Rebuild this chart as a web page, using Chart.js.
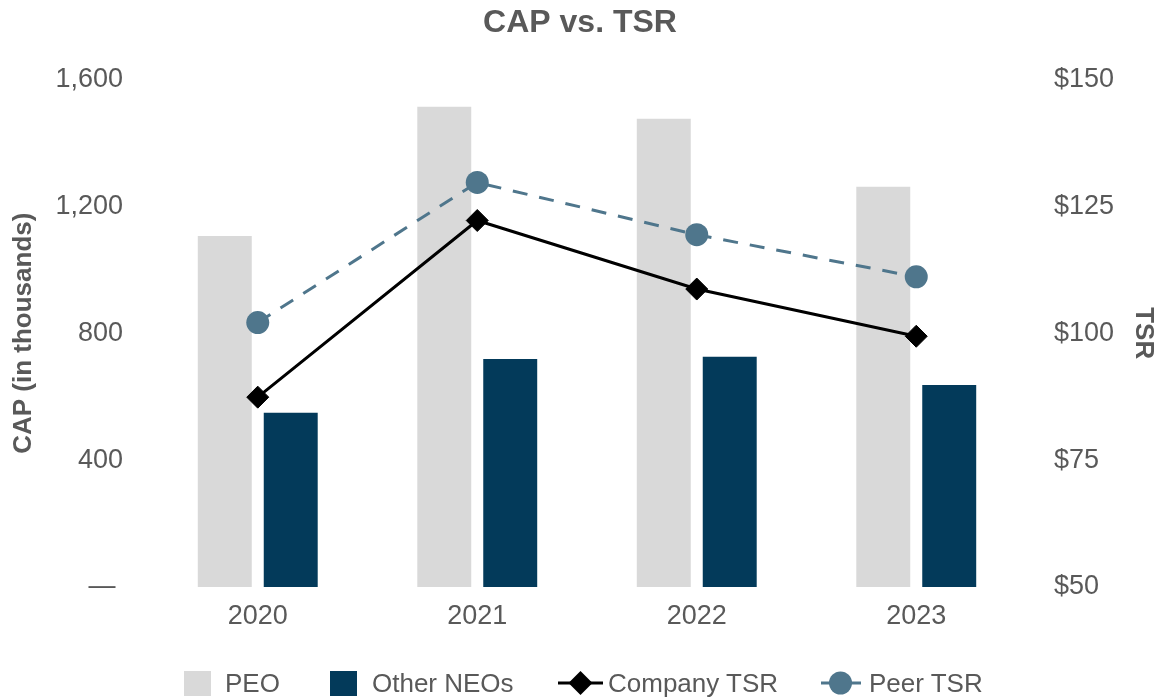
<!DOCTYPE html>
<html>
<head>
<meta charset="utf-8">
<title>CAP vs. TSR</title>
<script src="https://cdn.jsdelivr.net/npm/chart.js@4.4.1/dist/chart.umd.min.js"></script>
<style>
    html, body { margin: 0; padding: 0; background: #fff; }
    #wrap { position: relative; width: 1160px; height: 698px; }
    #legend { position: absolute; left: 0; top: 669px; width: 1160px; height: 28px; }
    .item {
        position: absolute; top: 0; height: 28px; display: flex; align-items: center;
        font-family: "Liberation Sans", Arial, sans-serif; font-size: 26px; color: #595959;
        white-space: nowrap;
    }
    .item svg { display: block; }
</style>
</head>
<body>
<div id="wrap">
    <canvas id="capChart" width="1160" height="698"></canvas>
    <div id="legend"></div>
</div>
<script>
// values
const years = ['2020', '2021', '2022', '2023'];
const peoCap = [1106, 1514, 1476, 1262];        // CAP, thousands
const otherNeoCap = [549, 719, 726, 637];       // CAP, thousands
const companyTsr = [87.4, 122.2, 108.7, 99.4];  // $
const peerTsr = [102.1, 129.7, 119.4, 111.1];   // $

const capTicks = [0, 400, 800, 1200, 1600];
const tsrTicks = [50, 75, 100, 125, 150];

const grey = '#595959';
const peoColor = '#d9d9d9';
const neoColor = '#033a5a';
const peerColor = '#4f768c';
const fontFamily = '"Liberation Sans", Arial, sans-serif';

const ctx = document.getElementById('capChart').getContext('2d');
new Chart(ctx, {
    type: 'bar',
    data: {
        labels: years,
        datasets: [
            {
                label: 'Company TSR',
                type: 'line',
                data: companyTsr,
                yAxisID: 'y1',
                borderColor: '#000',
                borderWidth: 3,
                pointStyle: 'rectRot',
                pointRadius: 11,
                pointBackgroundColor: '#000',
                pointBorderColor: '#000',
                pointBorderWidth: 1,
                order: 0,
            },
            {
                label: 'Peer TSR',
                type: 'line',
                data: peerTsr,
                yAxisID: 'y1',
                borderColor: peerColor,
                borderWidth: 3,
                borderDash: [15, 12],
                pointStyle: 'circle',
                pointRadius: 11.5,
                pointBackgroundColor: peerColor,
                pointBorderWidth: 0,
                order: 0,
            },
            {
                label: 'PEO',
                data: peoCap,
                yAxisID: 'y',
                backgroundColor: peoColor,
                barPercentage: 0.818,
                categoryPercentage: 0.601,
                order: 1,
            },
            {
                label: 'Other NEOs',
                data: otherNeoCap,
                yAxisID: 'y',
                backgroundColor: neoColor,
                barPercentage: 0.818,
                categoryPercentage: 0.601,
                order: 1,
            }
        ]
    },
    options: {
        responsive: false,
        animation: false,
        layout: { padding: { left: 0, right: 0, top: 0, bottom: 61 } },
        plugins: {
            legend: { display: false },
            tooltip: { enabled: false },
            title: {
                display: true,
                text: 'CAP vs. TSR',
                color: grey,
                font: { family: fontFamily, size: 32, weight: 'bold', lineHeight: 1.2 },
                padding: { top: 4, bottom: 37 },
            },
        },
        scales: {
            x: {
                grid: { display: false, drawTicks: false },
                border: { display: false },
                ticks: { color: grey, font: { family: fontFamily, size: 27 }, padding: 13 },
                afterFit: (scale) => { scale.height = 50; },
            },
            y: {
                position: 'left',
                min: capTicks[0],
                max: capTicks[capTicks.length - 1],
                afterBuildTicks: (scale) => { scale.ticks = capTicks.map(v => ({ value: v })); },
                grid: { display: false, drawTicks: false },
                border: { display: false },
                ticks: {
                    color: grey,
                    font: { family: fontFamily, size: 27 },
                    padding: 25,
                    callback: (v) => v === 0 ? '\u2014 ' : v.toLocaleString('en-US'),
                },
                title: {
                    display: true,
                    text: 'CAP (in thousands)',
                    color: grey,
                    font: { family: fontFamily, size: 26, weight: 'bold', lineHeight: 1.2 },
                    padding: { top: 8, bottom: 0 },
                },
                afterFit: (scale) => { scale.width = 148; },
            },
            y1: {
                position: 'right',
                min: tsrTicks[0],
                max: tsrTicks[tsrTicks.length - 1],
                afterBuildTicks: (scale) => { scale.ticks = tsrTicks.map(v => ({ value: v })); },
                grid: { display: false, drawTicks: false },
                border: { display: false },
                ticks: {
                    color: grey,
                    font: { family: fontFamily, size: 27 },
                    padding: 28,
                    callback: (v) => '$' + v,
                },
                title: {
                    display: true,
                    text: 'TSR',
                    color: grey,
                    font: { family: fontFamily, size: 26, weight: 'bold', lineHeight: 1.2 },
                    padding: { top: 1, bottom: 0 },
                },
                afterFit: (scale) => { scale.width = 134; },
            }
        }
    }
});

// legend drawn as html so the line+marker icons look like the original
const legendItems = [
    { text: 'PEO', left: 184, gap: 14,
      icon: `<svg width="27" height="25"><rect x="0" y="0" width="27" height="25" fill="${peoColor}"/></svg>` },
    { text: 'Other NEOs', left: 330, gap: 15,
      icon: `<svg width="27" height="25"><rect x="0" y="0" width="27" height="25" fill="${neoColor}"/></svg>` },
    { text: 'Company TSR', left: 558, gap: 5,
      icon: `<svg width="45" height="26"><line x1="0" y1="13" x2="45" y2="13" stroke="#000" stroke-width="3"/>` +
            `<polygon points="10.5,13 22.5,1 34.5,13 22.5,25" fill="#000"/></svg>` },
    { text: 'Peer TSR', left: 821, gap: 8,
      icon: `<svg width="40" height="26"><line x1="0" y1="13" x2="40" y2="13" stroke="${peerColor}" stroke-width="3"/>` +
            `<circle cx="19.5" cy="13" r="11.5" fill="${peerColor}"/></svg>` },
];

const legend = document.getElementById('legend');
legendItems.forEach((it) => {
    const el = document.createElement('div');
    el.className = 'item';
    el.style.left = it.left + 'px';
    el.innerHTML = it.icon + `<span style="margin-left:${it.gap}px">${it.text}</span>`;
    legend.appendChild(el);
});
</script>
</body>
</html>
